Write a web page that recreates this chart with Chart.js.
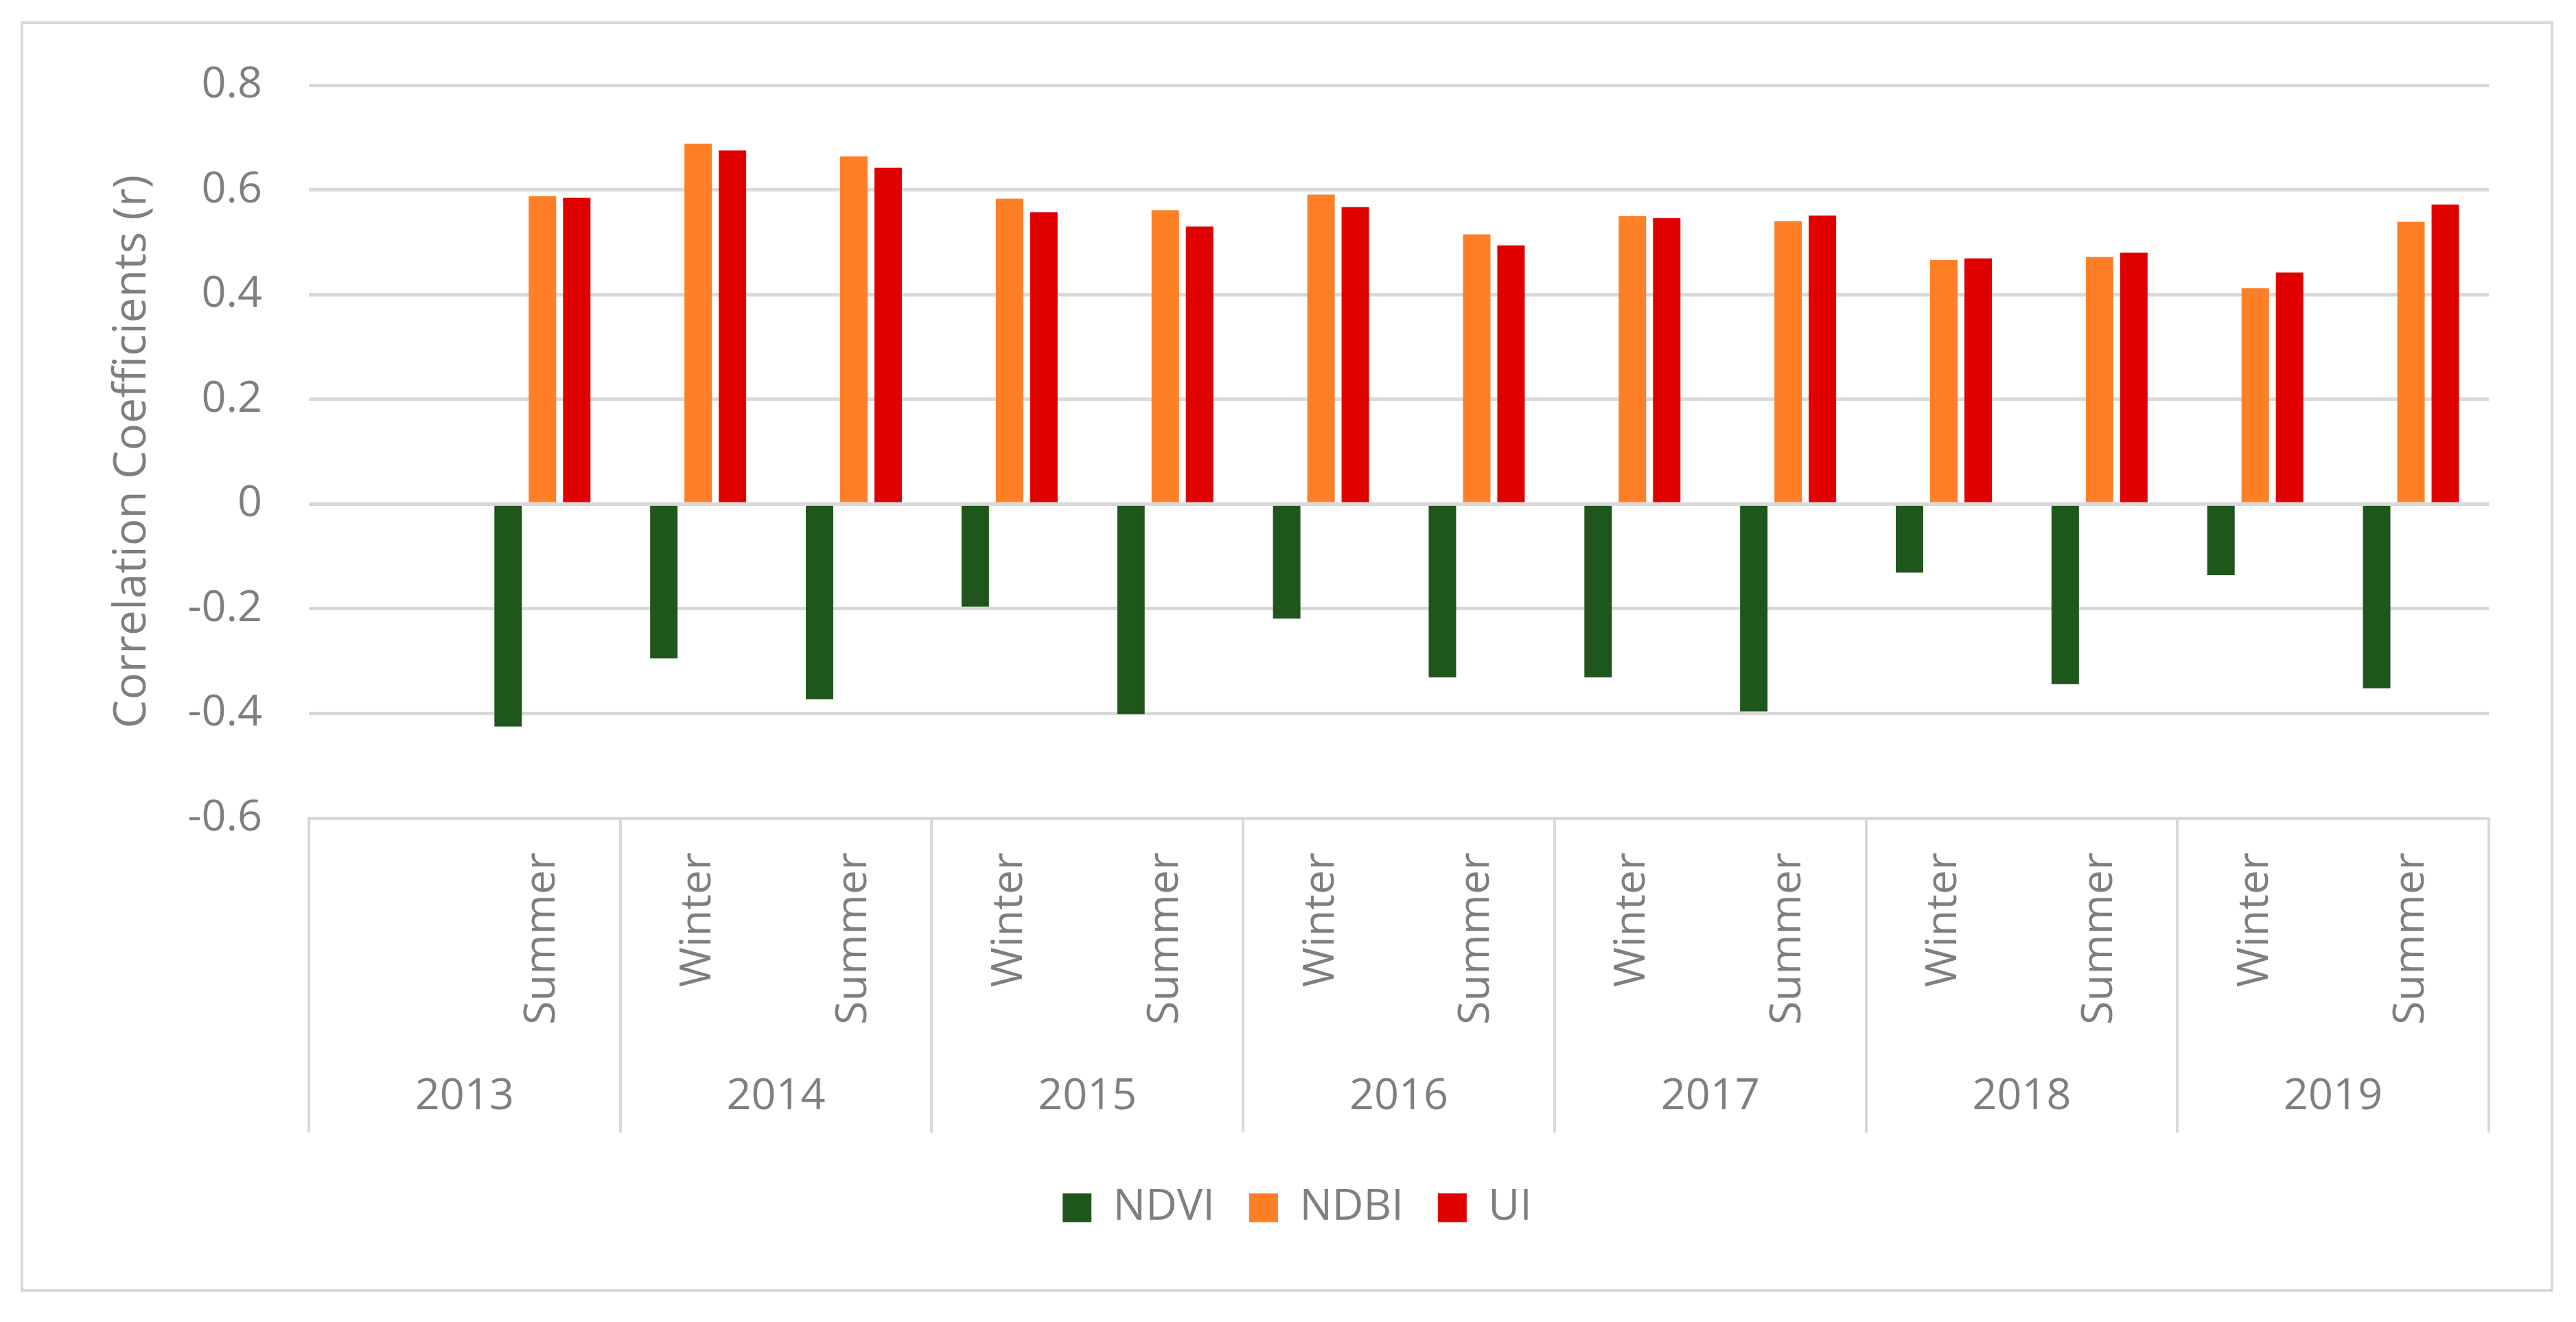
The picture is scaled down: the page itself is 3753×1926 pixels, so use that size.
<!DOCTYPE html>
<html>
<head>
<meta charset="utf-8">
<script src="https://cdn.jsdelivr.net/npm/chart.js@4.4.1/dist/chart.umd.min.js"></script>
<style>
html, body { margin: 0; padding: 0; background: #fff; }
#frame { position: absolute; left: 30px; top: 31px; width: 3690px; height: 1851px; box-sizing: border-box; border: 4px solid #d9d9d9; }
canvas { display: block; }
</style>
</head>
<body>
<div id="frame"><canvas id="myChart" width="3682" height="1843"></canvas></div>
<script>
// season labels, 2013 has no winter value
const seasons = ['', 'Summer', 'Winter', 'Summer', 'Winter', 'Summer', 'Winter', 'Summer',
                 'Winter', 'Summer', 'Winter', 'Summer', 'Winter', 'Summer'];
const years = ['2013', '2014', '2015', '2016', '2017', '2018', '2019'];

const ndvi = [null, -0.425, -0.295, -0.373, -0.196, -0.401, -0.219, -0.331, -0.331, -0.396, -0.131, -0.344, -0.136, -0.352];
const ndbi = [null, 0.588, 0.688, 0.664, 0.583, 0.561, 0.591, 0.515, 0.550, 0.540, 0.466, 0.472, 0.412, 0.539];
const ui   = [null, 0.585, 0.675, 0.642, 0.557, 0.530, 0.567, 0.494, 0.546, 0.551, 0.469, 0.480, 0.442, 0.572];

const gray = '#7f7f7f';
const lineGray = '#d9d9d9';
const font = { family: 'Open Sans', size: 63 };

// zero line sits on top of the bars like in Excel
const zeroLine = {
    id: 'zeroLine',
    afterDatasetsDraw(chart) {
        const ctx = chart.ctx;
        const y = chart.scales.y.getPixelForValue(0);
        ctx.save();
        ctx.strokeStyle = lineGray;
        ctx.lineWidth = 5;
        ctx.beginPath();
        ctx.moveTo(chart.chartArea.left, y);
        ctx.lineTo(chart.chartArea.right, y);
        ctx.stroke();
        ctx.restore();
    }
};

const data = {
    labels: seasons,
    datasets: [
        { label: 'NDVI', data: ndvi, backgroundColor: '#1f561b', xAxisID: 'x' },
        { label: 'NDBI', data: ndbi, backgroundColor: '#ff7f27', xAxisID: 'x' },
        { label: 'UI', data: ui, backgroundColor: '#e10000', xAxisID: 'x' }
    ]
};

const config = {
    type: 'bar',
    data: data,
    options: {
        responsive: false,
        devicePixelRatio: 1,
        animation: false,
        categoryPercentage: 0.661,
        barPercentage: 0.8,
        layout: { padding: { left: 120, top: 89, right: 90, bottom: 77 } },
        plugins: {
            tooltip: { enabled: false },
            legend: {
                position: 'bottom',
                labels: { boxWidth: 42, boxHeight: 42, padding: 50, color: gray, font: font }
            }
        },
        scales: {
            y: {
                min: -0.6,
                max: 0.8,
                afterFit: (s) => { s.width = 296; s.paddingTop = 0; s.paddingBottom = 0; },
                ticks: {
                    stepSize: 0.2,
                    padding: 68,
                    color: gray,
                    font: font,
                    callback: (v) => String(Math.round(v * 10) / 10)
                },
                grid: { color: lineGray, lineWidth: 5, drawTicks: false },
                border: { display: false },
                title: {
                    display: true,
                    text: 'Correlation Coefficients (r)',
                    color: gray,
                    font: { family: 'Open Sans', size: 66 },
                    padding: 0
                }
            },
            x: {
                afterFit: (s) => { s.height = 300; },
                grid: {
                    offset: true,
                    drawOnChartArea: false,
                    tickLength: 300,
                    lineWidth: 4,
                    color: (c) => (c.type !== 'tick' || c.index % 2 === 0) ? lineGray : 'rgba(0,0,0,0)'
                },
                border: { display: true, color: lineGray, width: 5 },
                ticks: {
                    autoSkip: false,
                    minRotation: 90,
                    maxRotation: 90,
                    padding: -250,
                    color: gray,
                    font: font
                }
            },
            x2: {
                type: 'category',
                labels: years,
                position: 'bottom',
                offset: true,
                afterFit: (s) => { s.height = 186; },
                grid: {
                    offset: true,
                    drawOnChartArea: false,
                    tickLength: 158,
                    lineWidth: 4,
                    color: lineGray
                },
                border: { display: false },
                ticks: {
                    autoSkip: false,
                    maxRotation: 0,
                    padding: -90,
                    color: gray,
                    font: font
                }
            }
        }
    },
    plugins: [zeroLine]
};

const myChart = new Chart(document.getElementById('myChart'), config);
</script>
</body>
</html>
